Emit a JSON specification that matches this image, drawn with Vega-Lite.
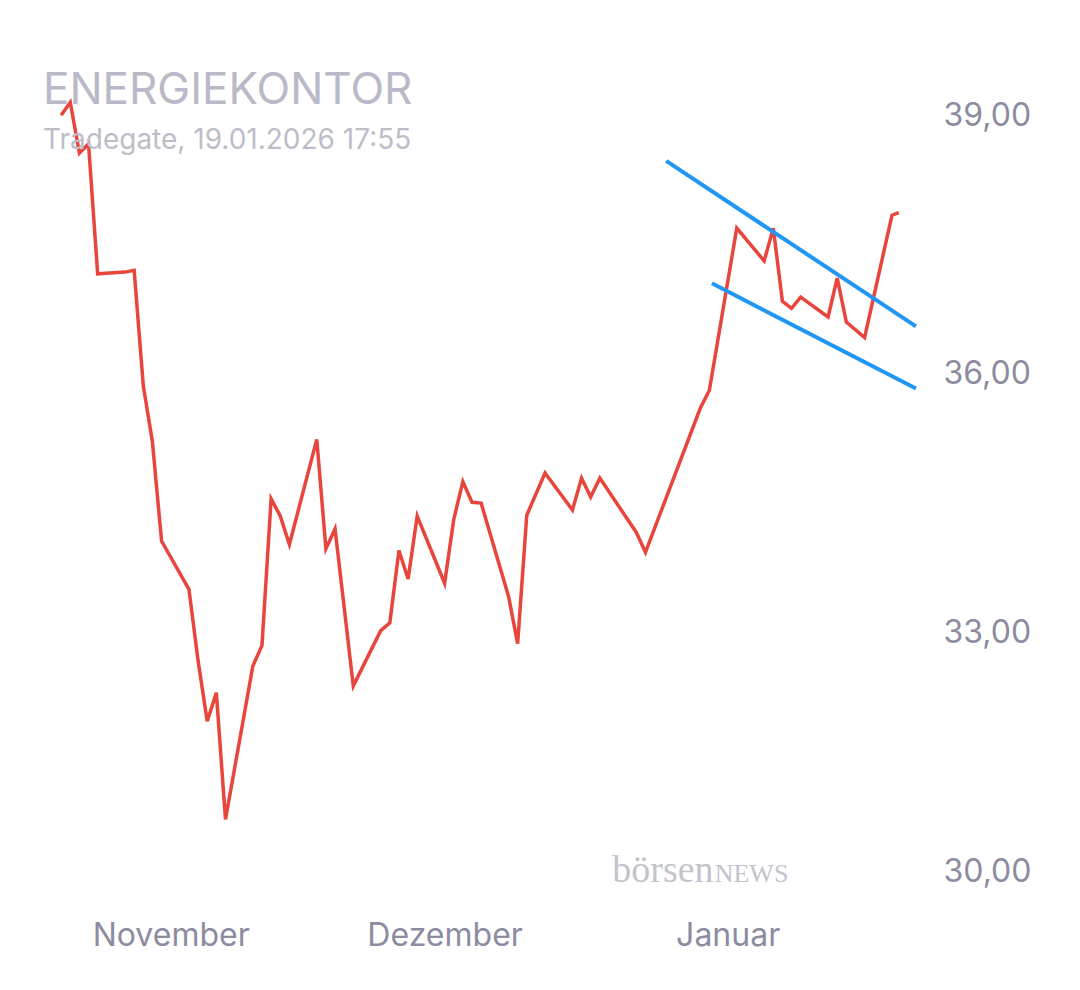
{
  "$schema": "https://vega.github.io/schema/vega-lite/v6.json",
  "autosize": {"type": "none"},
  "width": 864,
  "height": 793,
  "padding": {"left": 52, "top": 98, "right": 164, "bottom": 99},
  "background": "white",
  "title": {
    "text": "ENERGIEKONTOR",
    "subtitle": "Tradegate, 19.01.2026 17:55",
    "anchor": "start",
    "frame": "group",
    "offset": -60,
    "dx": -9,
    "font": "Inter",
    "fontSize": 44,
    "fontWeight": "normal",
    "color": "#b9b9c7",
    "subtitleFont": "Inter",
    "subtitleFontSize": 28,
    "subtitleColor": "#bdbdca",
    "subtitlePadding": 14
  },
  "datasets": {
    "price": [
      {"date": "2025-10-20", "close": 39.00},
      {"date": "2025-10-21", "close": 39.15},
      {"date": "2025-10-22", "close": 38.56},
      {"date": "2025-10-23", "close": 38.67},
      {"date": "2025-10-24", "close": 37.16},
      {"date": "2025-10-27", "close": 37.18},
      {"date": "2025-10-28", "close": 37.20},
      {"date": "2025-10-29", "close": 35.86},
      {"date": "2025-10-30", "close": 35.21},
      {"date": "2025-10-31", "close": 34.06},
      {"date": "2025-11-03", "close": 33.50},
      {"date": "2025-11-04", "close": 32.67},
      {"date": "2025-11-05", "close": 31.97},
      {"date": "2025-11-06", "close": 32.30},
      {"date": "2025-11-07", "close": 30.83},
      {"date": "2025-11-10", "close": 32.61},
      {"date": "2025-11-11", "close": 32.85},
      {"date": "2025-11-12", "close": 34.55},
      {"date": "2025-11-13", "close": 34.35},
      {"date": "2025-11-14", "close": 34.02},
      {"date": "2025-11-17", "close": 35.24},
      {"date": "2025-11-18", "close": 33.97},
      {"date": "2025-11-19", "close": 34.20},
      {"date": "2025-11-21", "close": 32.38},
      {"date": "2025-11-24", "close": 33.02},
      {"date": "2025-11-25", "close": 33.11},
      {"date": "2025-11-26", "close": 33.95},
      {"date": "2025-11-27", "close": 33.62},
      {"date": "2025-11-28", "close": 34.35},
      {"date": "2025-12-01", "close": 33.57},
      {"date": "2025-12-02", "close": 34.31},
      {"date": "2025-12-03", "close": 34.75},
      {"date": "2025-12-04", "close": 34.51},
      {"date": "2025-12-05", "close": 34.50},
      {"date": "2025-12-08", "close": 33.42},
      {"date": "2025-12-09", "close": 32.87},
      {"date": "2025-12-10", "close": 34.36},
      {"date": "2025-12-12", "close": 34.85},
      {"date": "2025-12-15", "close": 34.42},
      {"date": "2025-12-16", "close": 34.79},
      {"date": "2025-12-17", "close": 34.57},
      {"date": "2025-12-18", "close": 34.79},
      {"date": "2025-12-22", "close": 34.16},
      {"date": "2025-12-23", "close": 33.93},
      {"date": "2025-12-29", "close": 35.60},
      {"date": "2025-12-30", "close": 35.81},
      {"date": "2026-01-02", "close": 37.69},
      {"date": "2026-01-05", "close": 37.31},
      {"date": "2026-01-06", "close": 37.69},
      {"date": "2026-01-07", "close": 36.84},
      {"date": "2026-01-08", "close": 36.76},
      {"date": "2026-01-09", "close": 36.89},
      {"date": "2026-01-12", "close": 36.66},
      {"date": "2026-01-13", "close": 37.11},
      {"date": "2026-01-14", "close": 36.60},
      {"date": "2026-01-16", "close": 36.42},
      {"date": "2026-01-19", "close": 37.84},
      {"date": "2026-01-19T17:55:00Z", "close": 37.87}
    ],
    "channel": [
      {"line": "upper", "date": "2025-12-25T06:30:00Z", "close": 38.47},
      {"line": "upper", "date": "2026-01-21T15:00:00Z", "close": 36.55},
      {"line": "lower", "date": "2025-12-30T06:40:00Z", "close": 37.05},
      {"line": "lower", "date": "2026-01-21T15:00:00Z", "close": 35.83}
    ],
    "watermark1": [
      {"date": "2025-12-19T08:40:00Z", "close": 30.1, "label": "börsen"}
    ],
    "watermark2": [
      {"date": "2025-12-30T14:00:00Z", "close": 30.1, "label": "NEWS"}
    ]
  },
  "encoding": {
    "x": {
      "field": "date",
      "type": "temporal",
      "scale": {
        "type": "utc",
        "domain": [
          {"year": 2025, "month": 10, "date": 19, "utc": true},
          {"year": 2026, "month": 1, "date": 21, "hours": 15, "minutes": 7, "utc": true}
        ]
      },
      "axis": {
        "title": null,
        "grid": false,
        "ticks": false,
        "domain": false,
        "values": [
          {"year": 2025, "month": 11, "date": 1, "utc": true},
          {"year": 2025, "month": 12, "date": 1, "utc": true},
          {"year": 2026, "month": 1, "date": 1, "utc": true}
        ],
        "labelExpr": "['Januar','Februar','März','April','Mai','Juni','Juli','August','September','Oktober','November','Dezember'][utcmonth(datum.value)]",
        "labelFont": "Inter",
        "labelFontSize": 32,
        "labelColor": "#8b8c9f",
        "labelPadding": 29
      }
    },
    "y": {
      "field": "close",
      "type": "quantitative",
      "scale": {"domain": [30, 39.2], "zero": false, "nice": false},
      "axis": {
        "orient": "right",
        "title": null,
        "grid": false,
        "ticks": false,
        "domain": false,
        "values": [30, 33, 36, 39],
        "labelExpr": "replace(format(datum.value, '.2f'), '.', ',')",
        "labelFont": "Inter",
        "labelFontSize": 32,
        "labelColor": "#8b8c9f",
        "labelPadding": 27,
        "labelFlush": true,
        "labelFlushOffset": -3
      }
    }
  },
  "layer": [
    {
      "data": {"name": "price"},
      "mark": {"type": "line", "color": "#e8453c", "strokeWidth": 3.5}
    },
    {
      "data": {"name": "channel"},
      "mark": {"type": "line", "color": "#2196f3", "strokeWidth": 4},
      "encoding": {"detail": {"field": "line", "type": "nominal"}}
    },
    {
      "data": {"name": "watermark1"},
      "mark": {"type": "text", "align": "left", "baseline": "alphabetic", "font": "Liberation Serif", "fontSize": 38, "color": "#c3c3ce"},
      "encoding": {
        "text": {"field": "label", "type": "nominal"}
      }
    },
    {
      "data": {"name": "watermark2"},
      "mark": {"type": "text", "align": "left", "baseline": "alphabetic", "font": "Liberation Serif", "fontSize": 26, "color": "#c3c3ce"},
      "encoding": {
        "text": {"field": "label", "type": "nominal"}
      }
    }
  ],
  "config": {"view": {"stroke": null}}
}
